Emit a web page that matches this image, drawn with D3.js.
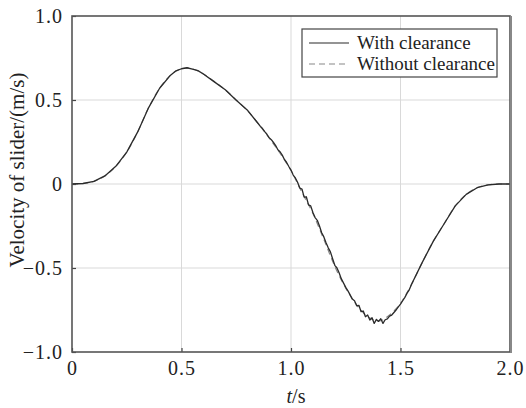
<!DOCTYPE html>
<html>
<head>
<meta charset="utf-8">
<script src="https://cdn.jsdelivr.net/npm/d3@7"></script>
</head>
<body style="margin:0;background:#fff;font-family:'Liberation Serif'">
<svg id="chart" width="526" height="408" font-family="Liberation Serif" style="display:block;font-family:'Liberation Serif'"></svg>
<script>
// ---- data ----
const xTicks = [0, 0.5, 1.0, 1.5, 2.0];
const xTickLabels = ["0", "0.5", "1.0", "1.5", "2.0"];
const yTicks = [-1.0, -0.5, 0, 0.5, 1.0];
const yTickLabels = ["\u22121.0", "\u22120.5", "0", "0.5", "1.0"];
const seriesNames = ["With clearance", "Without clearance"];

// Without clearance (smooth)
const timeSmooth = [0.00,0.05,0.10,0.15,0.20,0.25,0.30,0.35,0.40,0.45,0.475,0.50,0.525,0.55,0.575,0.60,0.65,0.70,0.75,0.80,0.85,0.90,0.95,1.00,1.05,1.10,1.15,1.20,1.25,1.30,1.35,1.40,1.45,1.50,1.55,1.60,1.65,1.70,1.75,1.80,1.85,1.90,1.95,2.00];
const velWithout = [0,0.003,0.016,0.048,0.105,0.19,0.31,0.455,0.57,0.648,0.672,0.686,0.690,0.685,0.673,0.655,0.61,0.56,0.50,0.438,0.36,0.275,0.183,0.08,-0.05,-0.175,-0.33,-0.49,-0.62,-0.72,-0.79,-0.815,-0.78,-0.71,-0.598,-0.465,-0.34,-0.235,-0.13,-0.062,-0.022,-0.005,0,0];

// With clearance (noisy in the middle region)
const timeWith = [0.00,0.05,0.10,0.15,0.20,0.25,0.30,0.35,0.40,0.45,0.475,0.50,0.525,0.55,0.575,0.60,0.65,0.70,0.75,0.80,0.85,
  0.86,0.87,0.88,0.89,0.90,0.91,0.92,0.93,0.94,0.95,0.96,0.97,0.98,0.99,1.00,
  1.01,1.02,1.03,1.04,1.05,1.06,1.07,1.08,1.09,1.10,1.11,1.12,1.13,1.14,1.15,
  1.16,1.17,1.18,1.19,1.20,1.21,1.22,1.23,1.24,1.25,1.26,1.27,1.28,1.29,1.30,
  1.31,1.32,1.33,1.34,1.35,1.36,1.37,1.38,1.39,1.40,1.41,1.42,1.43,1.44,1.45,
  1.46,1.47,1.48,1.49,1.50,1.51,1.52,1.53,1.54,1.55,
  1.60,1.65,1.70,1.75,1.80,1.85,1.90,1.95,2.00];
const velWith = [0,0.003,0.016,0.048,0.105,0.19,0.31,0.455,0.57,0.648,0.674,0.686,0.692,0.684,0.675,0.655,0.608,0.561,0.498,0.441,0.36,
  0.343,0.330,0.312,0.296,0.276,0.264,0.247,0.229,0.204,0.192,0.172,0.146,0.128,0.104,0.083,
  0.053,0.036,0.010,-0.024,-0.030,-0.078,-0.076,-0.124,-0.130,-0.170,-0.200,-0.216,-0.250,-0.290,-0.315,
  -0.350,-0.380,-0.404,-0.445,-0.484,-0.500,-0.530,-0.565,-0.590,-0.615,-0.636,-0.660,-0.685,-0.695,-0.725,
  -0.722,-0.760,-0.756,-0.790,-0.780,-0.810,-0.796,-0.830,-0.806,-0.818,-0.802,-0.830,-0.808,-0.803,-0.786,
  -0.780,-0.765,-0.750,-0.731,-0.715,-0.695,-0.675,-0.650,-0.630,-0.598,
  -0.465,-0.34,-0.235,-0.13,-0.062,-0.022,-0.005,0,0];

// ---- layout ----
const FONT = "Liberation Serif";
const svg = d3.select("#chart");
const mLeft = 72, mRight = 510, mTop = 16, mBottom = 352;
const x = d3.scaleLinear().domain([0, 2]).range([mLeft, mRight]);
const y = d3.scaleLinear().domain([-1, 1]).range([mBottom, mTop]);

// grid
svg.append("g").selectAll("line").data(xTicks.slice(1, -1)).join("line")
  .attr("x1", d => x(d)).attr("x2", d => x(d)).attr("y1", mTop).attr("y2", mBottom)
  .attr("stroke", "#d9d9d9").attr("stroke-width", 1);
svg.append("g").selectAll("line").data(yTicks.slice(1, -1)).join("line")
  .attr("y1", d => y(d)).attr("y2", d => y(d)).attr("x1", mLeft).attr("x2", mRight)
  .attr("stroke", "#d9d9d9").attr("stroke-width", 1);

// axes with inward ticks
const xAxis = d3.axisBottom(x).tickValues(xTicks).tickSizeInner(-4).tickSizeOuter(0)
  .tickFormat((d, i) => xTickLabels[i]).tickPadding(12);
const gx = svg.append("g").attr("transform", `translate(0,${mBottom})`).call(xAxis);
const yAxis = d3.axisLeft(y).tickValues(yTicks).tickSizeInner(-4).tickSizeOuter(0)
  .tickFormat((d, i) => yTickLabels[i]).tickPadding(9);
const gy = svg.append("g").attr("transform", `translate(${mLeft},0)`).call(yAxis);
[gx, gy].forEach(g => {
  g.attr("font-family", FONT).attr("font-size", 20);
  g.select(".domain").remove();
  g.selectAll(".tick line").attr("stroke", "#444").attr("stroke-width", 1.2);
  g.selectAll(".tick text").attr("font-family", FONT).attr("font-size", 20)
    .attr("fill", "#222").attr("letter-spacing", 1);
});
gx.selectAll(".tick text").attr("dy", "0.55em");

// lines
const lineGen = d3.line().x(d => x(d[0])).y(d => y(d[1])).curve(d3.curveMonotoneX);
const withoutData = timeSmooth.map((t, i) => [t, velWithout[i]]);
const withData = timeWith.map((t, i) => [t, velWith[i]]);
svg.append("path").datum(withoutData).attr("d", lineGen)
  .attr("fill", "none").attr("stroke", "#888").attr("stroke-width", 1.2).attr("stroke-dasharray", "6,4");
svg.append("path").datum(withData).attr("d", d3.line().x(d => x(d[0])).y(d => y(d[1])))
  .attr("fill", "none").attr("stroke", "#2a2a2a").attr("stroke-width", 1.3).attr("stroke-linejoin", "round");

// frame
svg.append("rect").attr("x", mLeft).attr("y", mTop).attr("width", mRight - mLeft).attr("height", mBottom - mTop)
  .attr("fill", "none").attr("stroke", "#555").attr("stroke-width", 1.6);
svg.append("line").attr("x1", mRight + 1).attr("x2", mRight + 1).attr("y1", mTop).attr("y2", mBottom + 1)
  .attr("stroke", "#888").attr("stroke-width", 2);

// legend
const lg = svg.append("g");
lg.append("rect").attr("x", 302).attr("y", 29).attr("width", 195).attr("height", 48)
  .attr("fill", "#fff").attr("stroke", "#444").attr("stroke-width", 1.2);
const legendItems = [
  { name: seriesNames[0], color: "#2a2a2a", dash: null, y: 43 },
  { name: seriesNames[1], color: "#888", dash: "6,4", y: 64 }
];
legendItems.forEach(it => {
  lg.append("line").attr("x1", 309).attr("x2", 349).attr("y1", it.y).attr("y2", it.y)
    .attr("stroke", it.color).attr("stroke-width", 1.2).attr("stroke-dasharray", it.dash);
  lg.append("text").attr("x", 357).attr("y", it.y + 6).attr("fill", "#222")
    .attr("font-family", FONT).attr("font-size", 19).text(it.name);
});

// axis titles
const xt = svg.append("text").attr("x", 296).attr("y", 403).attr("text-anchor", "middle").attr("fill", "#222")
  .attr("font-family", FONT).attr("font-size", 20);
xt.append("tspan").attr("font-style", "italic").text("t");
xt.append("tspan").text("/s");
svg.append("text").attr("transform", "translate(24,170) rotate(-90)").attr("text-anchor", "middle").attr("fill", "#222")
  .attr("font-family", FONT).attr("font-size", 21).text("Velocity of slider/(m/s)");
</script>
</body>
</html>
